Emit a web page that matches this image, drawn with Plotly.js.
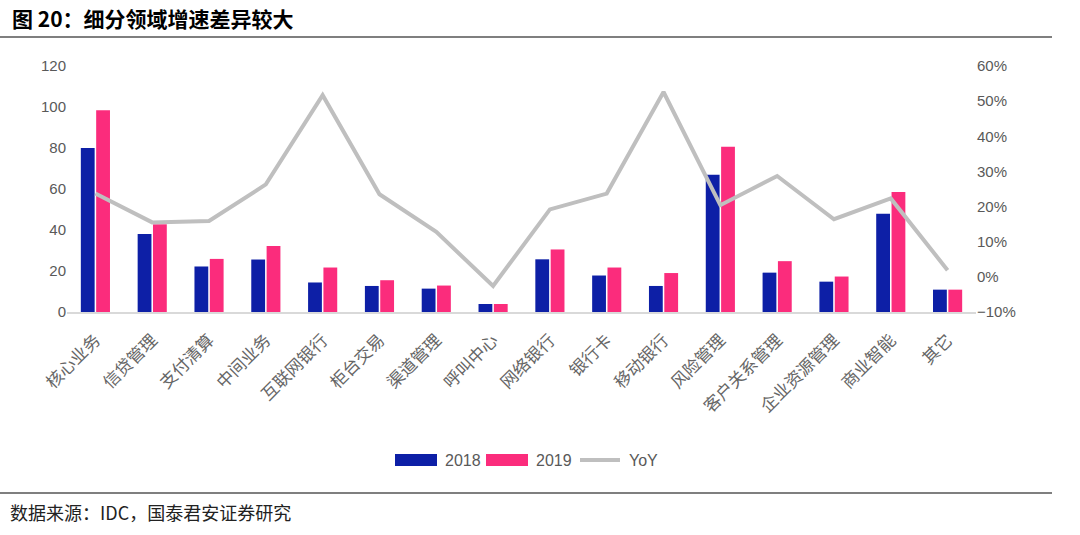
<!DOCTYPE html>
<html><head><meta charset="utf-8">
<script src="https://cdn.plot.ly/plotly-3.0.1.min.js"></script>
<style>html,body{margin:0;padding:0;background:#fff}#chart{width:1080px;height:535px}</style>
</head><body><div id="chart"></div>
<script>
const categories = ['核心业务','信贷管理','支付清算','中间业务','互联网银行','柜台交易','渠道管理','呼叫中心','网络银行','银行卡','移动银行','风险管理','客户关系管理','企业资源管理','商业智能','其它'];
const values2018 = [80, 38, 22.2, 25.6, 14.4, 12.7, 11.4, 3.9, 25.7, 17.8, 12.7, 67, 19.2, 14.8, 47.9, 10.9];
const values2019 = [98.4, 42.8, 25.9, 32.2, 21.7, 15.5, 12.9, 3.9, 30.5, 21.7, 19.0, 80.6, 24.8, 17.3, 58.5, 10.9];
const yoy = [0.237, 0.155, 0.159, 0.263, 0.517, 0.235, 0.128, -0.026, 0.192, 0.237, 0.526, 0.204, 0.287, 0.164, 0.223, 0.019];
const seriesNames = ['2018','2019','YoY'];
const colors = ['#0D1FA6','#FB2C7C','#BFBFBF'];

// plot area in pixels
const L=67, R=976, T=66, B=312;
const px = x => (x-L)/(R-L);
const py = y => (B-y)/(B-T);

const tickFont = {family:'Liberation Sans, Arial, sans-serif', size:15, color:'#595959'};
const data = [
  {type:'bar', x:categories, y:values2018, name:seriesNames[0], marker:{color:colors[0]}, yaxis:'y'},
  {type:'bar', x:categories, y:values2019, name:seriesNames[1], marker:{color:colors[1]}, yaxis:'y'},
  {type:'scatter', mode:'lines', x:categories, y:yoy, name:seriesNames[2], line:{color:colors[2], width:4}, yaxis:'y2'}
];

const legendY = 460;
const shapes = [
  {type:'line', xref:'paper', yref:'paper', x0:px(0), x1:px(1052), y0:py(37), y1:py(37), line:{color:'#555', width:1.5}},
  {type:'line', xref:'paper', yref:'paper', x0:px(0), x1:px(1052), y0:py(493), y1:py(493), line:{color:'#555', width:1.5}},
  {type:'rect', xref:'paper', yref:'paper', x0:px(395), x1:px(437), y0:py(454), y1:py(466), fillcolor:colors[0], line:{width:0}},
  {type:'rect', xref:'paper', yref:'paper', x0:px(486), x1:px(528), y0:py(454), y1:py(466), fillcolor:colors[1], line:{width:0}},
  {type:'line', xref:'paper', yref:'paper', x0:px(580), x1:px(620), y0:py(legendY), y1:py(legendY), line:{color:colors[2], width:4}}
];
const legFont = {family:'Liberation Sans, Arial, sans-serif', size:16, color:'#595959'};
const annotations = [
  {xref:'paper', yref:'paper', x:px(443), y:py(legendY), xanchor:'left', yanchor:'middle', text:seriesNames[0], showarrow:false, font:legFont},
  {xref:'paper', yref:'paper', x:px(534), y:py(legendY), xanchor:'left', yanchor:'middle', text:seriesNames[1], showarrow:false, font:legFont},
  {xref:'paper', yref:'paper', x:px(627), y:py(legendY), xanchor:'left', yanchor:'middle', text:seriesNames[2], showarrow:false, font:legFont},
  {xref:'paper', yref:'paper', x:px(8), y:py(512), xanchor:'left', yanchor:'middle', text:'数据来源：IDC，国泰君安证券研究', showarrow:false, font:{family:'Noto Sans CJK SC, sans-serif', size:18, color:'#222'}}
];

const layout = {
  width:1080, height:535,
  margin:{l:L, r:1080-R, t:T, b:535-B, pad:0},
  paper_bgcolor:'#fff', plot_bgcolor:'#fff',
  showlegend:false,
  title:{text:'<b>图 20：细分领域增速差异较大</b>', xref:'container', yref:'container', x:12/1080, xanchor:'left', y:1-20/535, yanchor:'middle', font:{family:'Noto Sans CJK SC, sans-serif', size:21, color:'#000'}},
  barmode:'group', bargap:0.46, bargroupgap:0.1,
  xaxis:{type:'category', tickangle:-45, tickfont:{family:'Noto Sans CJK SC, sans-serif', size:17, color:'#666'}, ticklabelstandoff:10, showgrid:false, showline:true, linecolor:'#D9D9D9', linewidth:1.5, ticks:'', automargin:false},
  yaxis:{range:[0,120], dtick:20, tick0:0, showgrid:false, zeroline:false, showline:false, tickfont:tickFont, ticks:'', ticklen:0, automargin:false},
  yaxis2:{range:[-0.1,0.6], dtick:0.1, tick0:0, tickformat:'.0%', overlaying:'y', side:'right', showgrid:false, zeroline:false, showline:false, tickfont:tickFont, ticks:'', automargin:false},
  shapes:shapes, annotations:annotations
};
Plotly.newPlot('chart', data, layout, {displayModeBar:false, staticPlot:true});
</script></body></html>
